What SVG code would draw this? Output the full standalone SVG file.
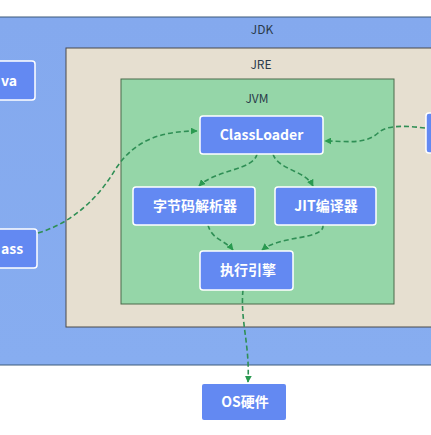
<svg xmlns="http://www.w3.org/2000/svg" width="431" height="435" viewBox="0 0 431 435">
<defs>
<style>
.node rect{fill:#6389f2;stroke:#ffffff;stroke-width:1.5}
.node text{font-family:"Noto Sans CJK SC","Noto Sans",sans-serif;font-size:14px;font-weight:bold;fill:#ffffff;text-anchor:middle}
.lbl{font-family:"Noto Sans CJK SC","Noto Sans",sans-serif;font-size:12px;fill:#2a3a4a;text-anchor:middle}
.edge{fill:none;stroke:#2f8f55;stroke-width:1.6;stroke-dasharray:5 3}
</style>
<marker id="ah" viewBox="0 0 10 10" refX="9" refY="5" markerWidth="7" markerHeight="7" orient="auto" markerUnits="userSpaceOnUse">
<path d="M0,0 L10,5 L0,10 z" fill="#2a9a50"/>
</marker>
<linearGradient id="jdkg" x1="0" y1="0" x2="0" y2="1">
<stop offset="0" stop-color="#84a9ee"/>
<stop offset="1" stop-color="#87adf0"/>
</linearGradient>
</defs>
<rect width="431" height="435" fill="#ffffff"/>
<g id="jdk">
<rect x="-2" y="17" width="440" height="348" fill="url(#jdkg)" stroke="#3d5a7a" stroke-width="1"/>
<text class="lbl" x="262" y="34">JDK</text>
</g>
<g id="jre">
<rect x="66" y="48" width="370" height="279" fill="#e6dfd0" stroke="#4a4a4a" stroke-width="1"/>
<text class="lbl" x="261" y="69">JRE</text>
</g>
<g id="jvm">
<rect x="121" y="79" width="273" height="225" fill="#95d6a8" stroke="#4a6a4a" stroke-width="1"/>
<text class="lbl" x="257" y="103">JVM</text>
</g>
<g id="java" class="node">
<rect x="-30" y="61" width="65" height="39" rx="3"/>
<text x="1" y="86" style="text-anchor:start">va</text>
</g>
<g id="class" class="node">
<rect x="-30" y="229" width="67" height="39" rx="3"/>
<text x="1" y="254" style="text-anchor:start">ass</text>
</g>
<g id="right" class="node">
<rect x="426" y="113" width="30" height="40" rx="3"/>
</g>
<g id="connectors">
<path class="edge" d="M38,233 C75,222 100,195 115,170 C135,138 165,131 197,131" marker-end="url(#ah)"/>
<path class="edge" d="M425,128 C400,125 385,126 378,133 C365,145 345,141 325,141" marker-end="url(#ah)"/>
<path class="edge" d="M257,154 C254,170 215,170 199,186" marker-end="url(#ah)"/>
<path class="edge" d="M273,154 C278,170 305,170 313,186" marker-end="url(#ah)"/>
<path class="edge" d="M208,225 C212,240 225,240 233,250" marker-end="url(#ah)"/>
<path class="edge" d="M323,225 C325,240 280,235 262,250" marker-end="url(#ah)"/>
<path class="edge" d="M243,290 C240,320 250,345 248,382" marker-end="url(#ah)"/>
</g>
<g id="classloader" class="node">
<rect x="200" y="116" width="123" height="38" rx="3"/>
<text x="261.5" y="140">ClassLoader</text>
</g>
<g id="bytecode" class="node">
<rect x="133" y="187" width="122" height="38" rx="3"/>
<text x="195" y="211">字节码解析器</text>
</g>
<g id="jit" class="node">
<rect x="275" y="187" width="101" height="38" rx="3"/>
<text x="326" y="211">JIT编译器</text>
</g>
<g id="engine" class="node">
<rect x="200" y="251" width="93" height="39" rx="3"/>
<text x="248" y="275">执行引擎</text>
</g>
<g id="os">
<rect x="202" y="384" width="84" height="36" rx="2" fill="#6389f2"/>
<text x="245" y="407" font-family="'Noto Sans CJK SC','Noto Sans',sans-serif" font-size="14" font-weight="bold" fill="#ffffff" text-anchor="middle">OS硬件</text>
</g>
</svg>
